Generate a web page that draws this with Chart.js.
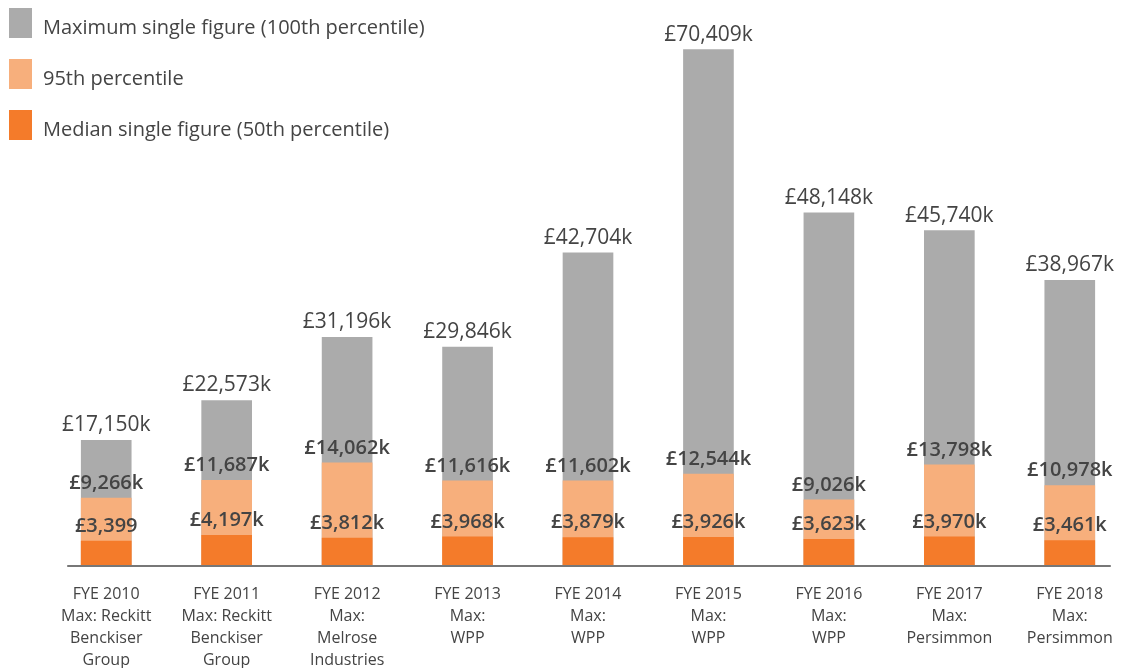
<!DOCTYPE html>
<html>
<head>
<meta charset="utf-8">
<script src="https://cdn.jsdelivr.net/npm/chart.js@4.4.1/dist/chart.umd.min.js"></script>
<style>
    html, body { margin: 0; padding: 0; background: #fff; overflow: hidden; }
    #wrap { position: relative; width: 1125px; height: 668px; overflow: hidden; }
    #payChart { position: absolute; left: 0; top: 0; }
    .legend { position: absolute; left: 0; top: 0; font-family: 'Open Sans', sans-serif; font-size: 20px; color: #444; }
    .legend div { position: absolute; left: 9px; height: 30px; white-space: nowrap; }
    .legend span.box { position: absolute; left: 0; top: 0; width: 23px; height: 30px; }
    .legend span.txt { position: absolute; left: 34px; top: 4px; line-height: 30px; }
</style>
</head>
<body>
<div id="wrap">
    <canvas id="payChart" width="1130" height="688"></canvas>
    <div class="legend" id="legend"></div>
</div>
<script>
const categories = [
    ['FYE 2010', 'Max: Reckitt', 'Benckiser', 'Group'],
    ['FYE 2011', 'Max: Reckitt', 'Benckiser', 'Group'],
    ['FYE 2012', 'Max:', 'Melrose', 'Industries'],
    ['FYE 2013', 'Max:', 'WPP'],
    ['FYE 2014', 'Max:', 'WPP'],
    ['FYE 2015', 'Max:', 'WPP'],
    ['FYE 2016', 'Max:', 'WPP'],
    ['FYE 2017', 'Max:', 'Persimmon'],
    ['FYE 2018', 'Max:', 'Persimmon']
];

// single figure pay, £k
const medianValues = [3399, 4197, 3812, 3968, 3879, 3926, 3623, 3970, 3461];
const p95Values = [9266, 11687, 14062, 11616, 11602, 12544, 9026, 13798, 10978];
const maxValues = [17150, 22573, 31196, 29846, 42704, 70409, 48148, 45740, 38967];

// the 2010 median label has no "k" in the original
const medianLabels = ['£3,399', '£4,197k', '£3,812k', '£3,968k', '£3,879k', '£3,926k', '£3,623k', '£3,970k', '£3,461k'];

const legendItems = [
    { text: 'Maximum single figure (100th percentile)', color: '#ababab' },
    { text: '95th percentile', color: '#f7af7c' },
    { text: 'Median single figure (50th percentile)', color: '#f47b2a' }
];

const fmt = v => '£' + v.toLocaleString('en-GB') + 'k';

// legend
const legendEl = document.getElementById('legend');
legendItems.forEach((item, i) => {
    const row = document.createElement('div');
    row.style.top = (8 + i * 51) + 'px';
    row.innerHTML = '<span class="box" style="background:' + item.color + '"></span><span class="txt">' + item.text + '</span>';
    legendEl.appendChild(row);
});

const axisLine = {
    id: 'axisLine',
    afterDatasetsDraw(chart) {
        const ctx = chart.ctx;
        const x = chart.scales.x;
        const y = chart.chartArea.bottom;
        ctx.save();
        ctx.strokeStyle = '#777';
        ctx.lineWidth = 2;
        ctx.beginPath();
        ctx.moveTo(x.getPixelForValue(0) - 39, y);
        ctx.lineTo(x.getPixelForValue(categories.length - 1) + 41, y);
        ctx.stroke();
        ctx.restore();
    }
};

const valueLabels = {
    id: 'valueLabels',
    afterDatasetsDraw(chart) {
        const ctx = chart.ctx;
        ctx.save();
        ctx.fillStyle = '#444';
        ctx.textAlign = 'center';
        ctx.textBaseline = 'middle';
        chart.data.datasets.forEach((ds, di) => {
            const meta = chart.getDatasetMeta(di);
            ctx.font = ds.labelBold ? '600 20px "Open Sans", sans-serif' : '21px "Open Sans", sans-serif';
            meta.data.forEach((bar, i) => {
                ctx.fillText(ds.labelText[i], bar.x, bar.y - 15);
            });
        });
        ctx.restore();
    }
};

new Chart(document.getElementById('payChart'), {
    type: 'bar',
    data: {
        labels: categories,
        datasets: [
            {
                label: 'Median single figure (50th percentile)',
                data: medianValues,
                backgroundColor: '#f47b2a',
                labelText: medianLabels,
                labelBold: true
            },
            {
                label: '95th percentile',
                data: p95Values,
                backgroundColor: '#f7af7c',
                labelText: p95Values.map(fmt),
                labelBold: true
            },
            {
                label: 'Maximum single figure (100th percentile)',
                data: maxValues,
                backgroundColor: '#ababab',
                labelText: maxValues.map(fmt),
                labelBold: false
            }
        ]
    },
    options: {
        responsive: false,
        animation: false,
        datasets: {
            bar: { grouped: false, barThickness: 50 }
        },
        layout: { padding: { top: 16, left: 46, right: 0, bottom: 0 } },
        plugins: {
            legend: { display: false },
            tooltip: { enabled: false }
        },
        scales: {
            x: {
                grid: { display: false, drawTicks: false },
                border: { display: false },
                ticks: {
                    color: '#444',
                    padding: 17,
                    maxRotation: 0,
                    autoSkip: false,
                    font: { family: 'Open Sans', size: 16, lineHeight: 1.375 }
                }
            },
            y: {
                display: false,
                min: 0,
                max: 75000
            }
        }
    },
    plugins: [axisLine, valueLabels]
});
</script>
</body>
</html>
